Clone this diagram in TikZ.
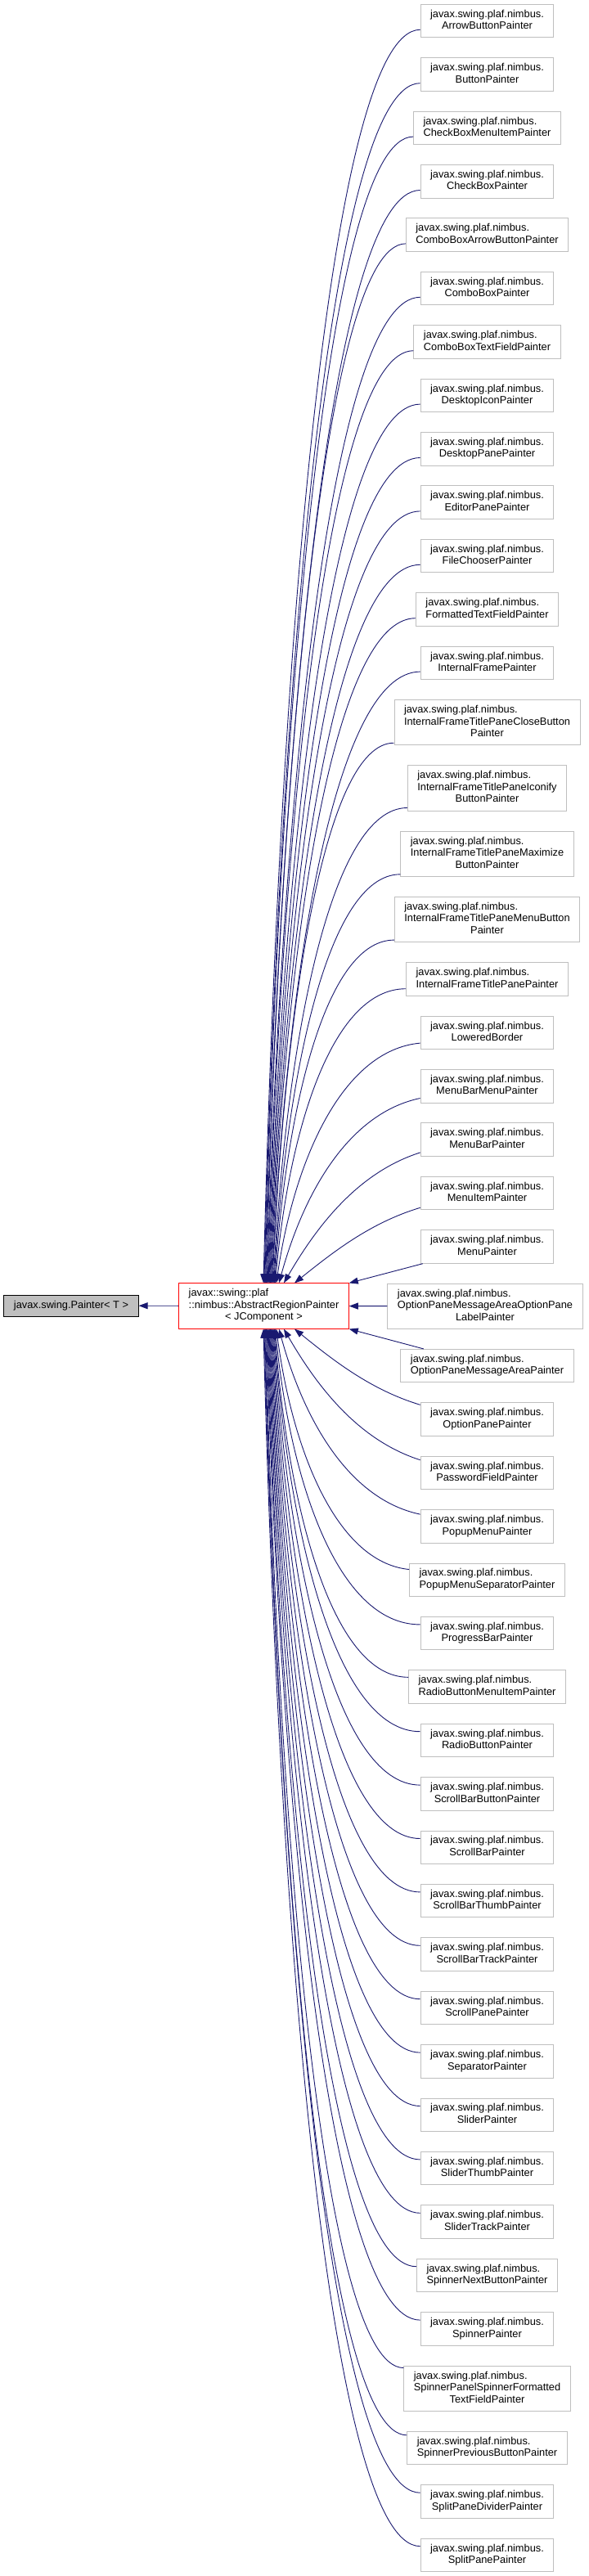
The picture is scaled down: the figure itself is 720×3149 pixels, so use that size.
\documentclass[tikz,border=0pt]{standalone}
\usepackage{fontspec}
\setmainfont{Liberation Sans}
\usetikzlibrary{arrows.meta,calc}
\definecolor{edgeblue}{RGB}{25,25,112}
\definecolor{boxgray}{RGB}{191,191,191}
\definecolor{fillgray}{RGB}{191,191,191}
\newcommand\Two[1]{\begin{tabular}{@{}c@{}}\multicolumn{1}{@{}l@{}}{javax.swing.plaf.nimbus.}\\#1\end{tabular}}
\newcommand\Three[2]{\begin{tabular}{@{}c@{}}\multicolumn{1}{@{}l@{}}{javax.swing.plaf.nimbus.}\\#1\\#2\end{tabular}}
% #1 start, #2 end, #3 k factor, #4 end x-lean factor, #5 end vertical factor, #6 start vertical factor
\newcommand\cedge[6]{\draw[edge] let \p1=(#1), \p2=(#2),
  \n1={-#3*(\x1-\x2)}, \n2={#4*(\x1-\x2)}, \n3={#5*(\y1-\y2)}, \n4={-#6*(\y1-\y2)} in
  (\p1) .. controls +(\n1,\n4) and +(\n2,\n3) .. (\p2);}
\tikzset{
  txt/.style={font=\fontsize{12.8}{14.5}\selectfont, inner xsep=12pt, inner ysep=0pt, line width=1pt},
  c2/.style={txt, draw=boxgray, fill=white, minimum height=40.5pt},
  c3/.style={txt, draw=boxgray, fill=white, minimum height=55.2pt},
  base/.style={txt, draw=black, fill=fillgray, minimum height=26pt},
  focus/.style={txt, draw=red, fill=white, minimum height=55.2pt},
  edge/.style={draw=edgeblue, line width=0.9pt, -{Triangle[length=11pt,width=8pt]}},
}
\begin{document}
\begin{tikzpicture}[x=1pt,y=-1pt]
\path[fill=white, use as bounding box] (0,0) rectangle (720,3149);

\node[base] (painter) at (87,1596) {javax.swing.Painter< T >};
\node[focus] (tgt) at (322.5,1596.5) {\begin{tabular}{@{}c@{}}\multicolumn{1}{@{}l@{}}{javax::swing::plaf}\\::nimbus::AbstractRegionPainter\\< JComponent >\end{tabular}};

\node[c2] (n1) at (595.5,25.55) {\Two{ArrowButtonPainter}};
\node[c2] (n2) at (595.5,90.95) {\Two{ButtonPainter}};
\node[c2] (n3) at (595.5,156.35) {\Two{CheckBoxMenuItemPainter}};
\node[c2] (n4) at (595.5,221.75) {\Two{CheckBoxPainter}};
\node[c2] (n5) at (595.5,287.15) {\Two{ComboBoxArrowButtonPainter}};
\node[c2] (n6) at (595.5,352.55) {\Two{ComboBoxPainter}};
\node[c2] (n7) at (595.5,417.95) {\Two{ComboBoxTextFieldPainter}};
\node[c2] (n8) at (595.5,483.35) {\Two{DesktopIconPainter}};
\node[c2] (n9) at (595.5,548.75) {\Two{DesktopPanePainter}};
\node[c2] (n10) at (595.5,614.15) {\Two{EditorPanePainter}};
\node[c2] (n11) at (595.5,679.55) {\Two{FileChooserPainter}};
\node[c2] (n12) at (595.5,744.95) {\Two{FormattedTextFieldPainter}};
\node[c2] (n13) at (595.5,810.35) {\Two{InternalFramePainter}};
\node[c3] (n14) at (595.5,883.1) {\Three{InternalFrameTitlePaneCloseButton}{Painter}};
\node[c3] (n15) at (595.5,963.4) {\Three{InternalFrameTitlePaneIconify}{ButtonPainter}};
\node[c3] (n16) at (595.5,1043.7) {\Three{InternalFrameTitlePaneMaximize}{ButtonPainter}};
\node[c3] (n17) at (595.5,1124.0) {\Three{InternalFrameTitlePaneMenuButton}{Painter}};
\node[c2] (n18) at (595.5,1196.95) {\Two{InternalFrameTitlePanePainter}};
\node[c2] (n19) at (595.5,1262.35) {\Two{LoweredBorder}};
\node[c2] (n20) at (595.5,1327.75) {\Two{MenuBarMenuPainter}};
\node[c2] (n21) at (595.5,1393.15) {\Two{MenuBarPainter}};
\node[c2] (n22) at (595.5,1458.55) {\Two{MenuItemPainter}};
\node[c2] (n23) at (595.5,1523.95) {\Two{MenuPainter}};
\node[c3] (n24) at (593,1596.7) {\Three{OptionPaneMessageAreaOptionPane}{LabelPainter}};
\node[c2] (n25) at (595.5,1669.65) {\Two{OptionPaneMessageAreaPainter}};
\node[c2] (n26) at (595.5,1735.05) {\Two{OptionPanePainter}};
\node[c2] (n27) at (595.5,1800.45) {\Two{PasswordFieldPainter}};
\node[c2] (n28) at (595.5,1865.85) {\Two{PopupMenuPainter}};
\node[c2] (n29) at (595.5,1931.25) {\Two{PopupMenuSeparatorPainter}};
\node[c2] (n30) at (595.5,1996.65) {\Two{ProgressBarPainter}};
\node[c2] (n31) at (595.5,2062.05) {\Two{RadioButtonMenuItemPainter}};
\node[c2] (n32) at (595.5,2127.45) {\Two{RadioButtonPainter}};
\node[c2] (n33) at (595.5,2192.85) {\Two{ScrollBarButtonPainter}};
\node[c2] (n34) at (595.5,2258.25) {\Two{ScrollBarPainter}};
\node[c2] (n35) at (595.5,2323.65) {\Two{ScrollBarThumbPainter}};
\node[c2] (n36) at (595.5,2389.05) {\Two{ScrollBarTrackPainter}};
\node[c2] (n37) at (595.5,2454.45) {\Two{ScrollPanePainter}};
\node[c2] (n38) at (595.5,2519.85) {\Two{SeparatorPainter}};
\node[c2] (n39) at (595.5,2585.25) {\Two{SliderPainter}};
\node[c2] (n40) at (595.5,2650.65) {\Two{SliderThumbPainter}};
\node[c2] (n41) at (595.5,2716.05) {\Two{SliderTrackPainter}};
\node[c2] (n42) at (595.5,2781.45) {\Two{SpinnerNextButtonPainter}};
\node[c2] (n43) at (595.5,2846.85) {\Two{SpinnerPainter}};
\node[c3] (n44) at (595.5,2919.6) {\Three{SpinnerPanelSpinnerFormatted}{TextFieldPainter}};
\node[c2] (n45) at (595.5,2992.55) {\Two{SpinnerPreviousButtonPainter}};
\node[c2] (n46) at (595.5,3057.95) {\Two{SplitPaneDividerPainter}};
\node[c2] (n47) at (595.5,3123.35) {\Two{SplitPanePainter}};

% base class edge
\draw[edge] (tgt) -- (painter);

% top group
\foreach \i/\ex/\ys in {1/-0.5/10,2/0.35/10,3/1.2/10,4/2.05/10,5/2.9/10,6/3.75/10,7/4.6/10,8/5.45/10,9/6.3/10,10/7.15/10,11/8.0/10,12/8.85/10,13/9.7/10,14/10.55/3,15/11.4/4,16/12.25/3,17/13.1/3,18/13.95/9}{
  \cedge{[yshift=\ys pt]n\i.south west}{[xshift=\ex pt]tgt.north}{0.58}{0.1}{0.5}{0}
}
\cedge{[yshift=8pt]n19.south west}{[xshift=15.3pt]tgt.north}{0.55}{0.12}{0.5}{0.03}
\cedge{[yshift=6pt]n20.south west}{[xshift=18.5pt]tgt.north}{0.5}{0.18}{0.5}{0.08}
\cedge{[yshift=5pt]n21.south west}{[xshift=24.5pt]tgt.north}{0.45}{0.25}{0.45}{0.15}
\cedge{[yshift=3pt]n22.south west}{[xshift=37.5pt]tgt.north}{0.4}{0.3}{0.4}{0.2}
\draw[edge] (n23) -- (tgt.north east);

% middle
\draw[edge] (n24) -- (tgt);

% bottom group
\draw[edge] (n25) -- (tgt.south east);
\cedge{[yshift=-3pt]n26.north west}{[xshift=37.5pt]tgt.south}{0.4}{0.3}{0.4}{0.2}
\cedge{[yshift=-5pt]n27.north west}{[xshift=24.5pt]tgt.south}{0.45}{0.25}{0.45}{0.15}
\cedge{[yshift=-6pt]n28.north west}{[xshift=18.5pt]tgt.south}{0.5}{0.18}{0.5}{0.08}
\cedge{[yshift=-8pt]n29.north west}{[xshift=15.3pt]tgt.south}{0.55}{0.12}{0.5}{0.03}
\foreach \i/\ex/\ys in {30/14/10,31/13.1/9,32/12.25/10,33/11.4/10,34/10.55/10,35/9.7/10,36/8.85/10,37/8.0/10,38/7.15/10,39/6.3/10,40/5.45/10,41/4.6/10,42/3.75/10,43/2.9/10,44/2.05/3,45/1.2/5,46/0.35/10,47/-0.5/10}{
  \cedge{[yshift=-\ys pt]n\i.north west}{[xshift=\ex pt]tgt.south}{0.58}{0.1}{0.5}{0}
}
\end{tikzpicture}
\end{document}
